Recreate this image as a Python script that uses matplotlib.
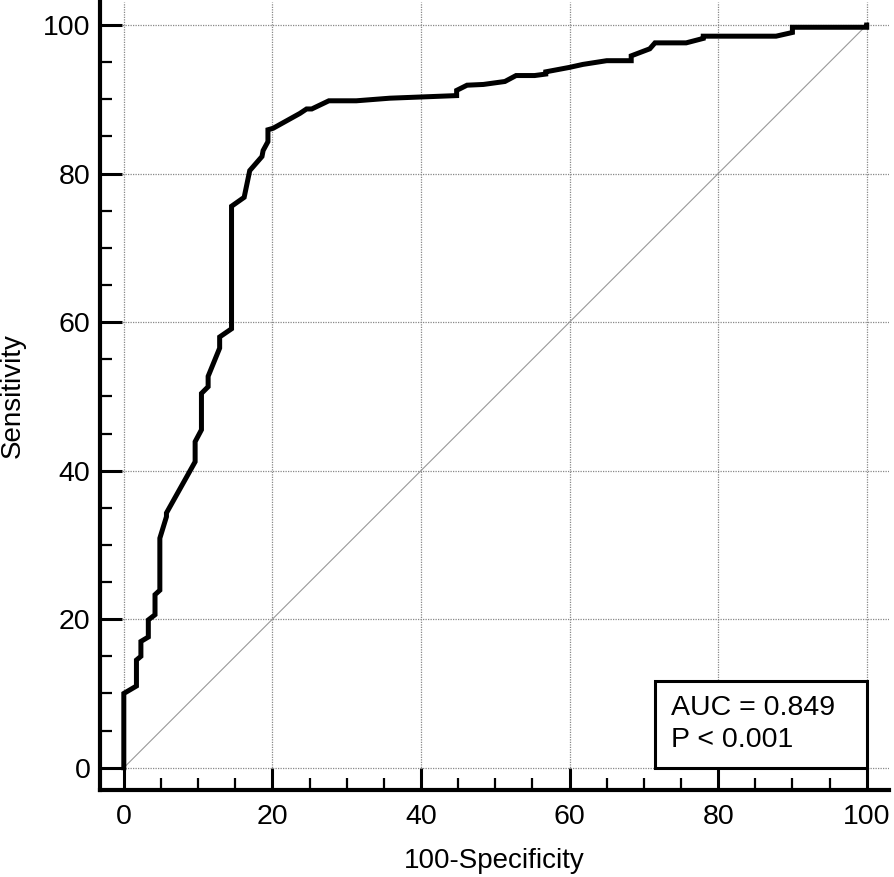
import numpy as np
import matplotlib
matplotlib.use("Agg")
import matplotlib.pyplot as plt
from matplotlib.patches import Rectangle
from matplotlib.ticker import MultipleLocator

plt.rcParams["font.family"] = ["Liberation Sans", "DejaVu Sans"]

# ROC curve (100-Specificity, Sensitivity), in %
fpr = [0, 0, 1.7, 1.7, 2.3, 2.3, 3.3, 3.3, 4.2, 4.2, 4.85, 4.85, 5.74, 5.74,
       9.6, 9.6, 10.45, 10.45, 11.35, 11.35, 12.9, 12.9, 14.5, 14.5, 16.2,
       16.95, 18.6, 18.75, 19.4, 19.4, 20.1, 23.7, 24.6, 25.3, 27.6, 31.3,
       35.8, 44.8, 44.8, 46.2, 48.4, 51.3, 52.8, 55.3, 56.8, 56.8, 60.0,
       61.8, 65.0, 68.3, 68.3, 70.8, 71.5, 75.7, 78.0, 78.0, 87.8, 90.0,
       90.0, 100, 100]
tpr = [0, 10.0, 11.0, 14.5, 15.0, 17.0, 17.6, 19.9, 20.6, 23.3, 23.9, 30.9,
       33.8, 34.3, 41.2, 43.9, 45.5, 50.4, 51.3, 52.7, 56.5, 58.0, 59.1,
       75.6, 76.8, 80.4, 82.3, 83.1, 84.3, 85.9, 86.1, 88.1, 88.7, 88.7,
       89.8, 89.8, 90.15, 90.5, 91.2, 91.9, 92.0, 92.4, 93.2, 93.2, 93.4,
       93.7, 94.3, 94.7, 95.2, 95.2, 95.85, 96.8, 97.6, 97.6, 98.2, 98.5,
       98.5, 99.0, 99.7, 99.7, 100]
ref_line = [0, 100]
auc_text = "AUC = 0.849\nP < 0.001"

fig = plt.figure(figsize=(8.94, 8.77), dpi=100)
ax = fig.add_axes([0.1119, 0.0992, 0.8825, 0.8985])

ax.plot(ref_line, ref_line, color="#999999", lw=0.8, zorder=2)
ax.plot(fpr, tpr, color="black", lw=3.6, solid_joinstyle="miter", zorder=3)

ax.set_xlim(-3.2, 103)
ax.set_ylim(-3.0, 103.1)
ax.xaxis.set_major_locator(MultipleLocator(20))
ax.yaxis.set_major_locator(MultipleLocator(20))
ax.xaxis.set_minor_locator(MultipleLocator(5))
ax.yaxis.set_minor_locator(MultipleLocator(5))
ax.grid(True, which="major", color="#888888", ls=(0, (1, 1)), lw=0.9, zorder=1)

for s in ("top", "right"):
    ax.spines[s].set_visible(False)
for s in ("left", "bottom"):
    ax.spines[s].set_linewidth(3.0)

ax.tick_params(which="major", direction="in", length=15.5, width=2.2,
               labelsize=20.5)
ax.tick_params(which="minor", direction="in", length=8.3, width=1.6)
ax.tick_params(axis="x", which="major", pad=10)
ax.tick_params(axis="y", which="major", pad=7)

ax.set_xlabel("100-Specificity", fontsize=20, labelpad=13)
ax.set_ylabel("Sensitivity", fontsize=20, labelpad=12)

# AUC box in the lower right
box = Rectangle((71.5, 0), 28.5, 11.7, facecolor="white", edgecolor="black",
                lw=2.2, zorder=4)
ax.add_patch(box)
ax.text(73.7, 5.85, auc_text, fontsize=20.5, va="center", ha="left",
        linespacing=1.32, zorder=5)

fig.savefig("out.png", dpi=100)
